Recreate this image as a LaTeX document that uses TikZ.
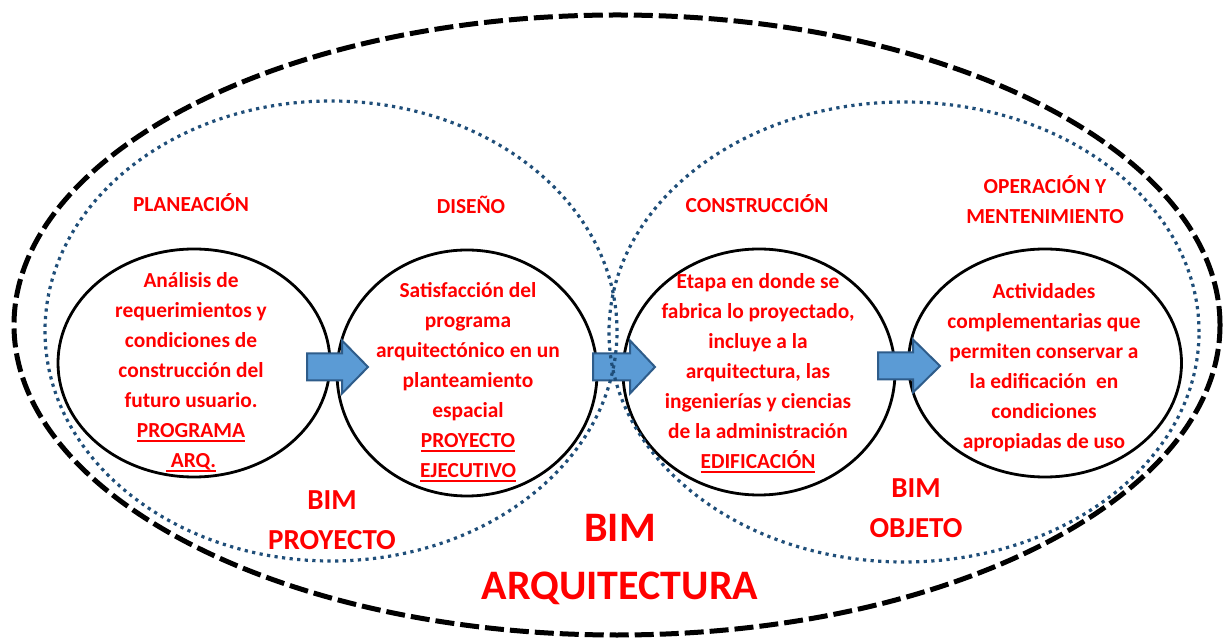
\documentclass[tikz,border=0pt]{standalone}
\usepackage{fontspec}
\setmainfont{Carlito}
\usetikzlibrary{shapes.geometric}
\definecolor{txtred}{RGB}{255,0,0}
\definecolor{dotblue}{RGB}{31,78,121}
\definecolor{arrfill}{RGB}{91,155,213}
\definecolor{arrline}{RGB}{46,92,138}
\newcommand\redul[1]{\setbox0\hbox{#1}\rlap{\rule[-2.2pt]{\wd0}{0.9pt}}\box0}
\tikzset{
  phase/.style={ellipse, draw=black, line width=1.4pt, inner sep=0pt},
  bimzone/.style={draw=dotblue, line width=1.6pt, dash pattern=on 1.6pt off 2.2pt},
  archzone/.style={draw=black, line width=2.5pt, dash pattern=on 9.5pt off 3pt},
  blockarrow/.style={fill=arrfill, draw=arrline, line width=1pt, line join=miter},
  body/.style={text=txtred, align=center, font=\bfseries\fontsize{10.7}{15}\selectfont, inner sep=0pt},
  head/.style={text=txtred, align=center, font=\bfseries\fontsize{10.7}{15}\selectfont, inner sep=0pt},
  bimsmall/.style={text=txtred, align=center, font=\bfseries\fontsize{14.5}{20}\selectfont, inner sep=0pt},
  bimbig/.style={text=txtred, align=center, font=\bfseries\fontsize{21}{29}\selectfont, inner sep=0pt}
}
\begin{document}
\begin{tikzpicture}[x=0.5pt, y=-0.5pt]
\useasboundingbox (0,0) rectangle (1225,640);
\fill[white] (0,0) rectangle (1225,640);

% phase circles
\node[phase, minimum width=136pt, minimum height=114pt] (c1) at (194,363) {};
\node[phase, minimum width=130pt, minimum height=123pt] (c2) at (467,373) {};
\node[phase, minimum width=136pt, minimum height=123pt] (c3) at (759,372) {};
\node[phase, minimum width=136.5pt, minimum height=114pt] (c4) at (1045,363) {};

% block arrows
\coordinate (a1) at (307,367);
\coordinate (a2) at (593,367);
\coordinate (a3) at (878,366);
\foreach \a/\s/\h in {a1/35/26, a2/37/25, a3/35/27}{
  \draw[blockarrow] (\a) ++(0,-13.5) -- ++(\s,0) -- ++(0,-13) -- ++(\h,26.5) -- ++(-\h,26.5) -- ++(0,-13) -- ++(-\s,0) -- cycle;
}

% BIM zones
\node[ellipse, bimzone, minimum width=286pt, minimum height=230pt, inner sep=0pt] (zp) at (331,331) {};
\node[ellipse, bimzone, minimum width=295pt, minimum height=230pt, inner sep=0pt] (zo) at (904,332) {};
\node[ellipse, archzone, minimum width=603pt, minimum height=310pt, inner sep=0pt] (za) at (617,325) {};

% headings
\node[head, anchor=base] (h1) at (191,212) {PLANEACIÓN};
\node[head, anchor=base] (h2) at (471,214) {DISEÑO};
\node[head, anchor=base] (h3) at (757,213) {CONSTRUCCIÓN};
\node[head] (h4) at (1045,199.5) {OPERACIÓN Y\\MENTENIMIENTO};

% circle texts
\node[body] (t1) at (191,372.5) {Análisis de\\requerimientos y\\condiciones de\\construcción del\\futuro usuario.\\\redul{PROGRAMA}\\\redul{\ ARQ.}};
\node[body] (t2) at (468,382.5) {Satisfacción del\\programa\\arquitectónico en un\\planteamiento\\espacial\\\redul{PROYECTO}\\\redul{EJECUTIVO}};
\node[body] (t3) at (758,373) {Etapa en donde se\\fabrica lo proyectado,\\incluye a la\\arquitectura, las\\ingenierías y ciencias\\de la administración\\\redul{EDIFICACIÓN}};
\node[body] (t4) at (1044,368) {Actividades\\complementarias que\\permiten conservar a\\la edificación~ en\\condiciones\\apropiadas de uso};

% BIM labels
\node[bimsmall] (b1) at (332,520) {BIM\\PROYECTO};
\node[bimsmall] (b2) at (916,508) {BIM\\OBJETO};
\node[bimbig] (b3) at (620,560) {BIM\\ARQUITECTURA};
\end{tikzpicture}
\end{document}
